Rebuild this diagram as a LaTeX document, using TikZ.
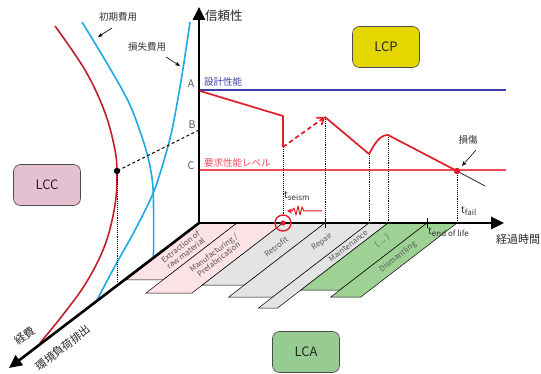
\documentclass[tikz,border=0pt]{standalone}
\usepackage{fontspec}
\setmainfont{Noto Sans CJK JP}
\usetikzlibrary{arrows.meta,calc}
\definecolor{lcpyellow}{RGB}{228,214,0}
\definecolor{lccpink}{RGB}{228,192,208}
\definecolor{lcagreen}{RGB}{150,204,146}
\definecolor{strippink}{RGB}{251,226,228}
\definecolor{stripgray}{RGB}{228,228,228}
\definecolor{stripgreen}{RGB}{158,210,148}
\definecolor{perfred}{RGB}{226,28,40}
\definecolor{levred}{RGB}{242,72,92}
\definecolor{lccred}{RGB}{192,30,42}
\definecolor{costblue}{RGB}{30,168,230}
\definecolor{designblue}{RGB}{60,60,168}
\definecolor{labelgray}{RGB}{90,90,90}
\newcommand\lcstrip[4]{\filldraw[stripline,fill=#4] (#1,223) -- (#2,223) -- ({#2-1.3*#3},{223+#3}) -- ({#1-1.3*#3},{223+#3}) -- cycle;}
\begin{document}
\begin{tikzpicture}[x=1pt,y=-1pt,
  axisline/.style={line width=2.6pt},
  bigbox/.style={draw=gray!60!black,rounded corners=7pt,minimum width=67pt,minimum height=41pt,font=\fontsize{13}{13}\selectfont,line width=0.6pt,text=black!85},
  stripline/.style={draw=black,line width=0.5pt},
  striptext/.style={rotate=37.5,text=labelgray,font=\fontsize{7.8}{8.4}\selectfont,align=center,inner sep=0pt},
  guide/.style={densely dotted,line width=0.9pt},
  jlabel/.style={font=\fontsize{9.5}{10}\selectfont,text=black!80,inner sep=0pt},
  tlabel/.style={font=\fontsize{10}{10}\selectfont,text=black!80,inner sep=0pt},
  small arrow/.style={-{Stealth[length=5pt,width=4pt]},line width=0.6pt},
]
\path[use as bounding box] (0,0) rectangle (541,374);

% key coordinates
\coordinate (O) at (199,223);
\coordinate (Vtip) at (199,7);
\coordinate (Htip) at (504,223);
\coordinate (Dtip) at (9,368);
\coordinate (A) at (199,90);
\coordinate (Bp) at (199,130);
\coordinate (Cp) at (199,170);
\coordinate (P1) at (283,116);
\coordinate (P2) at (283,147);
\coordinate (P3) at (325,117);
\coordinate (P4) at (369,154);
\coordinate (P5) at (388,135);
\coordinate (P6) at (457,171);
\coordinate (P7) at (485,186);
\coordinate (Q) at (117,171);

% strips
\lcstrip{200}{237}{57}{strippink}
\lcstrip{237}{283}{70}{strippink}
\lcstrip{283}{325}{62}{stripgray}
\lcstrip{325}{369}{74}{stripgray}
\lcstrip{369}{388}{85}{stripgray}
\lcstrip{388}{427}{67}{stripgreen}
\lcstrip{427}{457}{74}{stripgreen}

\node[striptext] (sExt) at (183,250) {Extraction of\\raw material};
\node[striptext] (sMan) at (216,256) {Manufacturing /\\Prefabrication};
\node[striptext] (sRet) at (276,247) {Retrofit};
\node[striptext] (sRep) at (322,242) {Repair};
\node[striptext] (sMai) at (348,246) {Maintenance};
\node[striptext] (sEtc) at (382,241) {( ... )};
\node[striptext] (sDis) at (398,257) {Dismantling};

% level lines
\draw[designblue,line width=1.2pt] (A) -- (506,90) coordinate (Aend);
\draw[levred,line width=1.2pt] (Cp) -- (506,170) coordinate (Cend);

% LCC curves
\draw[lccred,line width=1.6pt] plot[smooth,tension=0.6] coordinates {(55,26) (85,70) (104,110) (114,145) (117,171) (115,205) (105,245) (86,283) (62,316) (40,343)};
\draw[costblue,line width=1.6pt] plot[smooth,tension=0.5] coordinates {(82,22) (108,65) (130,105) (146,150) (153,188) (153.5,258)};
\draw[costblue,line width=1.6pt] plot[smooth,tension=0.5] coordinates {(190,22) (182,75) (172,130) (162,167) (152,196) (134,232) (115,266) (97,300)};

% dashed and dotted guides
\draw[dashed,line width=0.9pt,dash pattern=on 3pt off 2.5pt] (Bp) -- (Q);
\draw[guide] (Q) -- (117,282) coordinate (Qb);
\fill (Q) circle (3.2);

% vertical guides to time axis
\draw[guide] (P2) -- (283,215);
\draw[guide] (P3) -- (325,223);
\draw[guide] (P4) -- (369,223);
\draw[guide] (P5) -- (388,223);
\draw[guide] (P6) -- (457,223);

% performance curve
\draw[perfred,line width=1.7pt,line join=round] (200,91) -- (P1) -- (P2);
\draw[perfred,line width=1.7pt,dash pattern=on 4.5pt off 3pt,-{Straight Barb[length=6pt,width=9pt]}] (P2) -- (P3);
\draw[perfred,line width=1.7pt,line join=round] (P3) -- (P4) .. controls (375,143) and (380,135) .. (P5) -- (P6);
\draw[black!85,line width=0.8pt] (P6) -- (P7);
\fill[perfred] (P6) circle (3.2);

% axes
\draw[axisline,{Triangle[length=13pt,width=12pt]}-{Triangle[length=13pt,width=12pt]}] (Vtip) -- (O) -- (Htip);
\draw[axisline,-{Triangle[length=13pt,width=12pt]}] (O) -- (Dtip);

% ticks
\draw[line width=0.6pt] (325,218) -- (325,228);
\draw[line width=0.6pt] (427,218) -- (427,228);

% retrofit marker
\draw[perfred,line width=1.4pt] (283,223) circle (8);
\fill[perfred] (283,223) circle (2.6);

% earthquake symbol
\draw[perfred,line width=1pt,-{Stealth[length=5pt,width=5pt]},line join=round] (322,211) -- (304,211) -- (302,207) -- (300,215) -- (298,206) -- (296,215) -- (294,208) -- (292,211) -- (287,211);

% labels
\node[font=\fontsize{12.5}{13}\selectfont,text=black!85,anchor=west,inner sep=0pt] (yl) at (205,16) {信頼性};
\node[font=\fontsize{11}{11}\selectfont,text=black!85,anchor=west,inner sep=0pt] (xl) at (496,239) {経過時間};
\node[font=\fontsize{11}{11}\selectfont,text=black!85,rotate=37.5,inner sep=0pt] (zl1) at (25,336) {経費};
\node[font=\fontsize{11}{11}\selectfont,text=black!85,rotate=37.5,inner sep=0pt] (zl2) at (63,348) {環境負荷排出};

\node[font=\fontsize{10.5}{11}\selectfont,text=labelgray,inner sep=0pt] (lA) at (191,84) {A};
\node[font=\fontsize{10.5}{11}\selectfont,text=labelgray,inner sep=0pt] (lB) at (192,125) {B};
\node[font=\fontsize{10.5}{11}\selectfont,text=labelgray,inner sep=0pt] (lC) at (191,166) {C};
\node[jlabel,text=designblue,anchor=west] (dp) at (204,82) {設計性能};
\node[jlabel,text=levred,anchor=west] (rp) at (204,163) {要求性能レベル};

\node[jlabel] (init) at (118,17) {初期費用};
\node[jlabel] (loss) at (147,47) {損失費用};
\node[jlabel] (dmg) at (468,140) {損傷};
\draw[small arrow] (112,28) -- (98,37);
\draw[small arrow] (166,57) -- (180,66);
\draw[small arrow] (476,150) -- (462,166);

\node[tlabel,anchor=base west] (ts) at (284,199) {t{\fontsize{8}{8}\selectfont\raisebox{-0.45ex}{seism}}};
\node[tlabel,anchor=base west] (tf) at (461,214) {t{\fontsize{8}{8}\selectfont\raisebox{-0.45ex}{fail}}};
\node[tlabel,anchor=base west] (te) at (428,235) {t{\fontsize{8}{8}\selectfont\raisebox{-0.45ex}{end of life}}};

% boxes
\node[bigbox,fill=lcpyellow] (LCP) at (386,47) {LCP};
\node[bigbox,fill=lccpink] (LCC) at (47,185) {LCC};
\node[bigbox,fill=lcagreen] (LCA) at (306,352) {LCA};
\end{tikzpicture}
\end{document}
